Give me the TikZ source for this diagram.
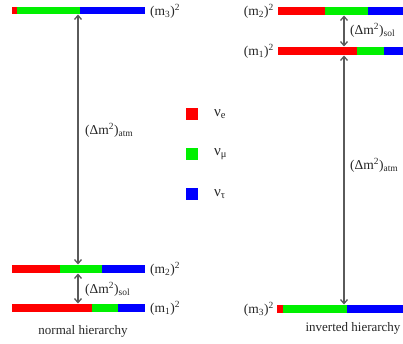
\documentclass[tikz,border=0pt]{standalone}
\usepackage{fontspec}
\setmainfont{Liberation Serif}
\usetikzlibrary{arrows.meta}
\definecolor{nured}{RGB}{255,0,0}
\definecolor{nugreen}{RGB}{0,240,0}
\definecolor{nublue}{RGB}{0,0,255}
\definecolor{arrgray}{RGB}{90,90,90}
\begin{document}
\begin{tikzpicture}[x=1pt,y=-1pt,
  lbl/.style={inner sep=0pt, font=\fontsize{13.5}{15}\selectfont, text=black!85},
  captxt/.style={inner sep=0pt, font=\fontsize{13}{15}\selectfont, text=black!85},
  leglbl/.style={inner sep=0pt, font=\fontsize{15}{17}\selectfont, text=black!85},
  gap/.style={draw=arrgray, line width=1.3pt, {Straight Barb[length=4pt,width=7pt]}-{Straight Barb[length=4pt,width=7pt]}, shorten <=0.5pt, shorten >=0.5pt},
  legsq/.style={minimum size=12pt, inner sep=0pt, draw=none}]
\useasboundingbox (0,0) rectangle (403,344);
% ---------- normal hierarchy ----------
% m3
\fill[nured]   (12,7) rectangle (17,14);
\fill[nugreen] (17,7) rectangle (80,14);
\fill[nublue]  (80,7) rectangle (145,14);
% m2
\fill[nured]   (12,265) rectangle (60,273);
\fill[nugreen] (60,265) rectangle (102,273);
\fill[nublue]  (102,265) rectangle (145,273);
% m1
\fill[nured]   (12,304) rectangle (92,312);
\fill[nugreen] (92,304) rectangle (118,312);
\fill[nublue]  (118,304) rectangle (145,312);
\coordinate (n3b) at (78,14);
\coordinate (n2t) at (78,265);
\coordinate (n2b) at (78,273);
\coordinate (n1t) at (78,304);
\draw[gap] (n3b) -- (n2t);
\draw[gap] (n2b) -- (n1t);
\node[lbl, anchor=west] (nm3) at (150,11) {(m\textsubscript{3})\textsuperscript{2}};
\node[lbl, anchor=west] (nm2) at (150,269) {(m\textsubscript{2})\textsuperscript{2}};
\node[lbl, anchor=west] (nm1) at (150,308) {(m\textsubscript{1})\textsuperscript{2}};
\node[lbl, anchor=west] (natm) at (85,130) {(Δm\textsuperscript{2})\textsubscript{atm}};
\node[lbl, anchor=west] (nsol) at (85,289) {(Δm\textsuperscript{2})\textsubscript{sol}};
\node[captxt] (nh) at (83,331) {normal hierarchy};
% ---------- legend ----------
\node[legsq, fill=nured]   (le) at (191.5,114) {};
\node[legsq, fill=nugreen] (lm) at (191.5,154) {};
\node[legsq, fill=nublue]  (lt) at (191.5,194) {};
\node[leglbl, anchor=west] (te) at (214,114) {ν\textsubscript{e}};
\node[leglbl, anchor=west] (tm) at (214,154) {ν\textsubscript{μ}};
\node[leglbl, anchor=west] (tt) at (214,194) {ν\textsubscript{τ}};
% ---------- inverted hierarchy ----------
% m2
\fill[nured]   (278,7) rectangle (325,15);
\fill[nugreen] (325,7) rectangle (368,15);
\fill[nublue]  (368,7) rectangle (403,15);
% m1
\fill[nured]   (278,47) rectangle (357,55);
\fill[nugreen] (357,47) rectangle (384,55);
\fill[nublue]  (384,47) rectangle (403,55);
% m3
\fill[nured]   (277,305) rectangle (283,313);
\fill[nugreen] (283,305) rectangle (347,313);
\fill[nublue]  (347,305) rectangle (403,313);
\coordinate (i2b) at (344,15);
\coordinate (i1t) at (344,47);
\coordinate (i1b) at (344,55);
\coordinate (i3t) at (344,305);
\draw[gap] (i2b) -- (i1t);
\draw[gap] (i1b) -- (i3t);
\node[lbl, anchor=east] (im2) at (274,11) {(m\textsubscript{2})\textsuperscript{2}};
\node[lbl, anchor=east] (im1) at (274,51) {(m\textsubscript{1})\textsuperscript{2}};
\node[lbl, anchor=east] (im3) at (274,309) {(m\textsubscript{3})\textsuperscript{2}};
\node[lbl, anchor=west] (isol) at (350,30) {(Δm\textsuperscript{2})\textsubscript{sol}};
\node[lbl, anchor=west] (iatm) at (350,165) {(Δm\textsuperscript{2})\textsubscript{atm}};
\node[captxt] (ih) at (353,328) {inverted hierarchy};
\end{tikzpicture}
\end{document}
